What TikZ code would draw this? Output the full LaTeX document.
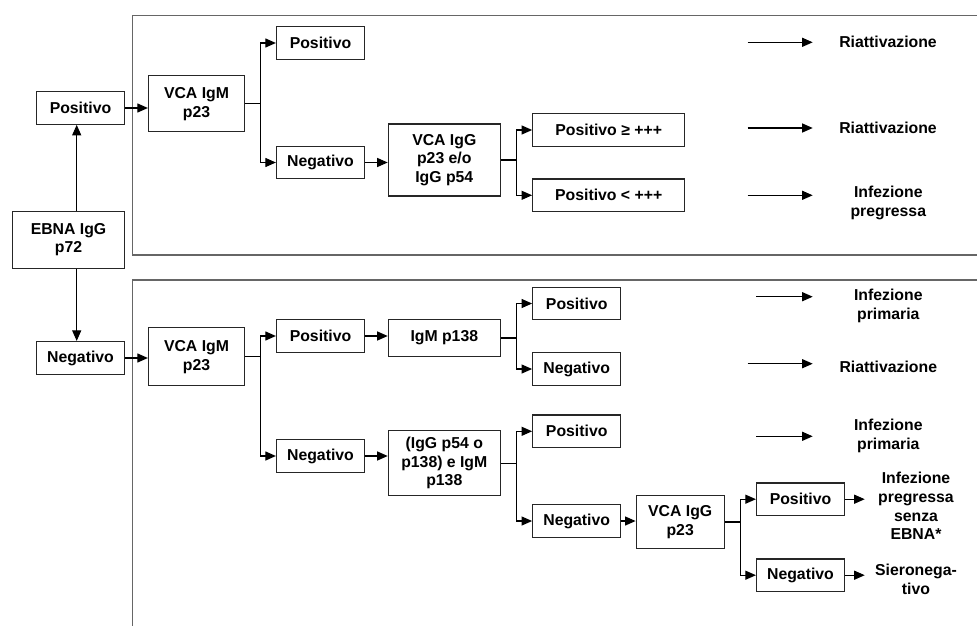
\documentclass[tikz,border=0pt]{standalone}
\usepackage{fontspec}
\setmainfont{Liberation Sans}
\usepackage{tikz}
\usetikzlibrary{arrows.meta, calc}
\newcommand{\ebvfont}{\fontsize{15.8}{18.7}\selectfont\bfseries}

\begin{document}
\begin{tikzpicture}[x=1pt, y=-1pt]
            \tikzset {
                basic node/.style={
                        draw=black!85,
                        line width=1.2pt,
                        font=\ebvfont,
                        align=center,
                        inner sep=0pt,
                        minimum height=32.5pt,
                        minimum width=88pt
                    },
                end text/.style={font=\ebvfont, align=center, inner sep=0pt},
                flow arrow/.style={-{Triangle[length=10.5pt,width=9pt]}, line width=1.1pt},
                panel line/.style={draw=black!60, line width=1.4pt}
            }
            \useasboundingbox (0,0) rectangle (977,626);

            % panels
            \draw[panel line] (977,15.7) -- (132.7,15.7) -- (132.7,255) -- (977,255);
            \draw[panel line] (977,280) -- (132.7,280) -- (132.7,626);

            % EBNA
            \node[basic node, minimum width=112pt, minimum height=57pt] (ebna) at (68.5,239.7) {EBNA IgG\\p72};
            \node[basic node] (pos0) at (80.5,108) {Positivo};
            \node[basic node, minimum height=33pt] (neg0) at (80.5,358) {Negativo};

            % EBNA positivo
            \node[basic node, minimum width=96pt, minimum height=56pt] (vcam1) at (196.5,103.8) {VCA IgM\\p23};
            \node[basic node] (p1) at (320.5,43) {Positivo};
            \node[basic node] (n1) at (320.5,162.5) {Negativo};
            \node[basic node, minimum width=112pt, minimum height=72pt] (vcag1) at (444.3,160) {VCA IgG\\p23 e/o\\IgG p54};
            \node[basic node, minimum width=152pt] (pge) at (608.7,130) {Positivo ≥ +++};
            \node[basic node, minimum width=152pt] (plt) at (608.7,195.3) {Positivo < +++};

            \node[end text] (r1) at (888,42) {Riattivazione};
            \node[end text] (r2) at (888,128) {Riattivazione};
            \node[end text] (ip1) at (888.3,203) {Infezione\\pregressa};

            % EBNA negativo
            \node[basic node, minimum width=96pt, minimum height=58pt] (vcam2) at (196.5,356.8) {VCA IgM\\p23};
            \node[basic node] (p2) at (320.5,336) {Positivo};
            \node[basic node] (n2) at (320.5,456) {Negativo};
            \node[basic node, minimum width=112pt, minimum height=36.5pt] (igm) at (444.3,338) {IgM p138};
            \node[basic node, minimum width=112pt, minimum height=65pt] (igg) at (444.3,463.2) {(IgG p54 o\\p138) e IgM\\p138};
            \node[basic node] (p3) at (576.7,303.5) {Positivo};
            \node[basic node] (n3) at (576.7,369) {Negativo};
            \node[basic node] (p4) at (576.7,431.3) {Positivo};
            \node[basic node] (n4) at (576.7,521) {Negativo};
            \node[basic node, minimum height=52.6pt] (vcag2) at (680.2,522) {VCA IgG\\p23};
            \node[basic node] (p5) at (800.5,499.2) {Positivo};
            \node[basic node] (n5) at (800.5,575.2) {Negativo};

            \node[end text] (prim1) at (888.3,306) {Infezione\\primaria};
            \node[end text] (r3) at (888.3,367) {Riattivazione};
            \node[end text] (prim2) at (888.3,436) {Infezione\\primaria};
            \node[end text] (ipse) at (916,506) {Infezione\\pregressa\\senza\\EBNA*};
            \node[end text] (sier) at (916,579) {Sieronega-\\tivo};

            % EBNA arrows
            \coordinate (stem) at (76.7,0);
            \draw[flow arrow] (ebna.north -| stem) -- (pos0.south -| stem);
            \draw[flow arrow] (ebna.south -| stem) -- (neg0.north -| stem);
            \draw[flow arrow] (pos0.east) -- (pos0.east -| vcam1.west);
            \draw[flow arrow] (neg0.east) -- (neg0.east -| vcam2.west);

            % branches
            \draw[flow arrow] (vcam1.east) -- ++(15.5pt,0) |- (p1.west);
            \draw[flow arrow] (vcam1.east) -- ++(15.5pt,0) |- (n1.west);
            \draw[flow arrow] (n1.east) -- (n1.east -| vcag1.west);
            \draw[flow arrow] (vcag1.east) -- ++(16pt,0) |- (pge.west);
            \draw[flow arrow] (vcag1.east) -- ++(16pt,0) |- (plt.west);

            \draw[flow arrow] (vcam2.east) -- ++(15.5pt,0) |- (p2.west);
            \draw[flow arrow] (vcam2.east) -- ++(15.5pt,0) |- (n2.west);
            \draw[flow arrow] (p2.east) -- (p2.east -| igm.west);
            \draw[flow arrow] (n2.east) -- (n2.east -| igg.west);
            \draw[flow arrow] (igm.east) -- ++(16pt,0) |- (p3.west);
            \draw[flow arrow] (igm.east) -- ++(16pt,0) |- (n3.west);
            \draw[flow arrow] (igg.east) -- ++(16pt,0) |- (p4.west);
            \draw[flow arrow] (igg.east) -- ++(16pt,0) |- (n4.west);
            \draw[flow arrow] (n4.east) -- (n4.east -| vcag2.west);
            \draw[flow arrow] (vcag2.east) -- ++(16pt,0) |- (p5.west);
            \draw[flow arrow] (vcag2.east) -- ++(16pt,0) |- (n5.west);
            \draw[flow arrow] (p5.east) -- ++(19.6pt,0) coordinate (ipse tip);
            \draw[flow arrow] (n5.east) -- ++(19.6pt,0) coordinate (sier tip);

            % result arrows
            \coordinate (r1 tail) at (747.7,42.3);
            \coordinate (r2 tail) at (747.7,128);
            \coordinate (ip1 tail) at (747.7,195.3);
            \coordinate (prim1 tail) at (756,296.7);
            \coordinate (r3 tail) at (747.7,363.7);
            \coordinate (prim2 tail) at (756,436.3);
            \draw[flow arrow] (r1 tail) -- ++(65pt,0);
            \draw[flow arrow] (r2 tail) -- ++(65pt,0);
            \draw[flow arrow] (ip1 tail) -- ++(65pt,0);
            \draw[flow arrow] (prim1 tail) -- ++(56.7pt,0);
            \draw[flow arrow] (r3 tail) -- ++(65pt,0);
            \draw[flow arrow] (prim2 tail) -- ++(56.7pt,0);
\end{tikzpicture}
\end{document}
